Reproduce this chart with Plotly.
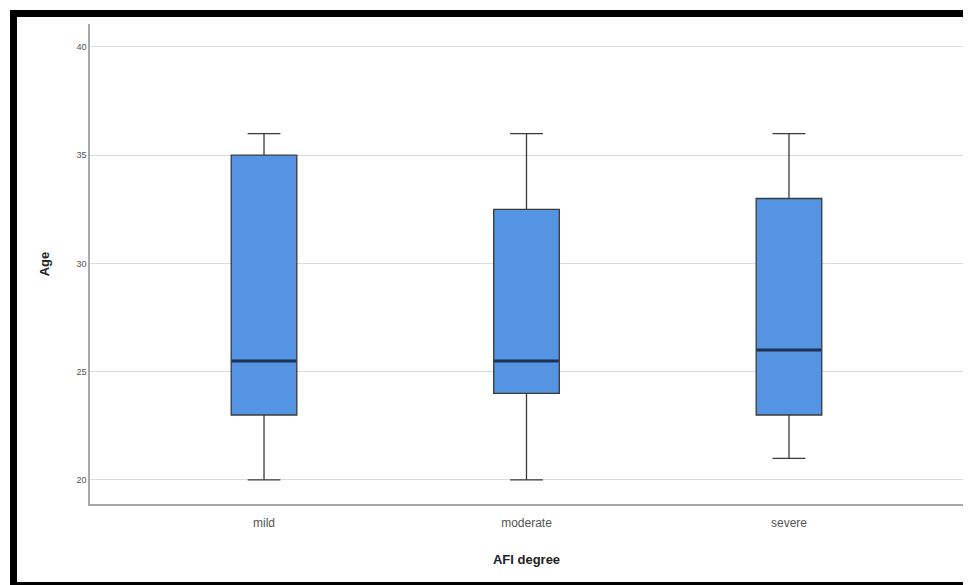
import plotly.graph_objects as go

categories = ["mild", "moderate", "severe"]
q1 = [23, 24, 23]
median = [25.5, 25.5, 26]
q3 = [35, 32.5, 33]
lower = [20, 20, 21]
upper = [36, 36, 36]
y_ticks = [20, 25, 30, 35, 40]

# page body has an 8px margin, so the figure is laid out in shifted coordinates
OFF = 8
W, H = 971 - OFF, 585 - OFF
ml, mr, mt, mb = 90 - OFF, 8, 24 - OFF, 585 - 504
pw, ph = W - ml - mr, H - mt - mb

def px_x(p):
    return (p - OFF - ml) / pw

def px_y(p):
    return (H - mb - (p - OFF)) / ph

def border(x0, x1, y0, y1):
    return dict(type="rect", xref="paper", yref="paper", layer="below",
                x0=px_x(x0), x1=px_x(x1), y0=px_y(y1), y1=px_y(y0),
                fillcolor="black", line=dict(width=0))

fig = go.Figure()
fig.add_trace(go.Box(
    x=categories, q1=q1, median=median, q3=q3,
    lowerfence=lower, upperfence=upper,
    width=0.25, whiskerwidth=0.5,
    fillcolor="#5593e3",
    line=dict(color="#3a3a3a", width=1.3),
    boxpoints=False, hoverinfo="skip", showlegend=False,
))
fig.add_trace(go.Scatter(
    x=categories, y=median, mode="markers",
    marker=dict(symbol="line-ew", size=46,
                line=dict(color="#1c3250", width=3)),
    hoverinfo="skip", showlegend=False,
))

fig.update_layout(
    width=W, height=H,
    margin=dict(l=ml, r=mr, t=mt, b=mb),
    paper_bgcolor="white", plot_bgcolor="white",
    font=dict(family="Liberation Sans, Arial, sans-serif", color="#444"),
    shapes=[
        border(10, 975, 10, 17),   # top
        border(10, 17, 10, 590),   # left
        border(10, 975, 582, 590), # bottom
    ],
)
fig.update_xaxes(
    range=[-0.663, 2.663], showgrid=False,
    showline=True, linecolor="#a8a8a8", linewidth=1.5,
    ticks="", ticklabelstandoff=7, tickfont=dict(size=12, color="#555"),
    title=dict(text="<b>AFI degree</b>", font=dict(size=13, color="#222"), standoff=26),
)
fig.update_yaxes(
    range=[18.89, 41.06], tickvals=y_ticks,
    showgrid=True, gridcolor="#dcdcdc", gridwidth=1.2, zeroline=False,
    showline=True, linecolor="#a8a8a8", linewidth=1.5,
    ticks="", tickfont=dict(size=9, color="#555"),
    title=dict(text="<b>Age</b>", font=dict(size=13, color="#222"), standoff=24),
)
fig.write_html("out.html", config={"displayModeBar": False})
